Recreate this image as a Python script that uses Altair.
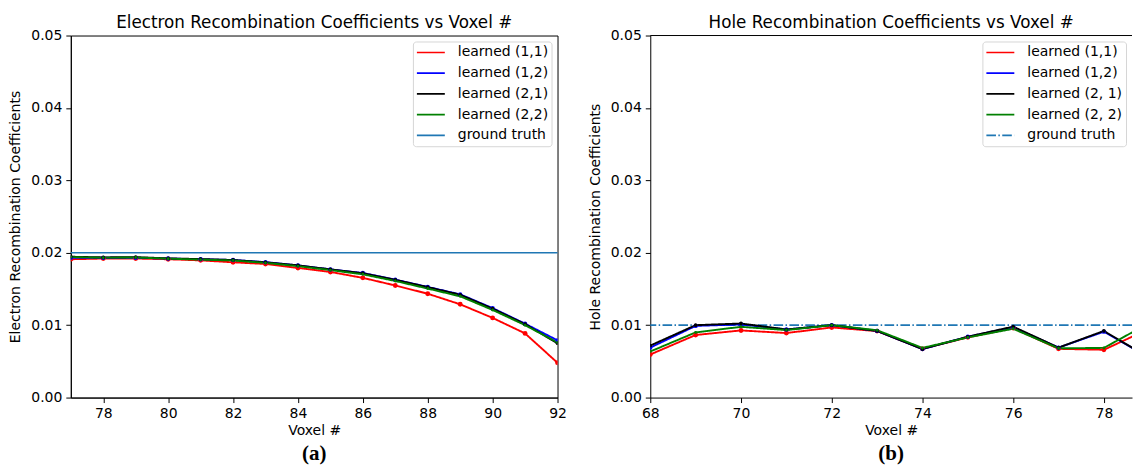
import altair as alt
import pandas as pd

# ---------------- data ----------------
voxel_e = list(range(77, 93))
e_11 = [0.0191, 0.0192, 0.0192, 0.0191, 0.01895, 0.01868, 0.01845, 0.0179, 0.01735,
        0.01653, 0.01548, 0.01434, 0.01288, 0.0110, 0.00886, 0.0048]
e_12 = [0.0193, 0.0193, 0.0193, 0.0192, 0.0191, 0.0190, 0.0187, 0.01826, 0.0177,
        0.0172, 0.01628, 0.01528, 0.01425, 0.01235, 0.0102, 0.0079]
e_21 = [0.01945, 0.01936, 0.0194, 0.01922, 0.01913, 0.0190, 0.01868, 0.01826, 0.0177,
        0.01717, 0.01626, 0.01525, 0.0142, 0.01228, 0.01014, 0.0075]
e_22 = [0.0194, 0.01932, 0.01935, 0.01918, 0.01905, 0.01893, 0.0186, 0.01815, 0.0176,
        0.01702, 0.0161, 0.01505, 0.01398, 0.0121, 0.0100, 0.0076]
gt_e = 0.02

voxel_h = list(range(68, 80))
h_11 = [0.00595, 0.00864, 0.00927, 0.00891, 0.00968, 0.00918, 0.00673, 0.00832,
        0.00959, 0.00673, 0.0066, 0.0095]
h_12 = [0.0069, 0.0099, 0.0101, 0.0094, 0.0100, 0.0092, 0.0067, 0.0084,
        0.0097, 0.0069, 0.0091, 0.0055]
h_21 = [0.00718, 0.0100, 0.01023, 0.0094, 0.0100, 0.0092, 0.0067, 0.0084,
        0.0098, 0.0069, 0.0092, 0.0055]
h_22 = [0.00636, 0.0090, 0.00977, 0.00932, 0.0100, 0.0093, 0.00686, 0.0083,
        0.0095, 0.0068, 0.00686, 0.0103]
gt_h = 0.01

names_e = ["learned (1,1)", "learned (1,2)", "learned (2,1)", "learned (2,2)", "ground truth"]
names_h = ["learned (1,1)", "learned (1,2)", "learned (2, 1)", "learned (2, 2)", "ground truth"]
colors = ["#ff0000", "#0000ff", "#000000", "#008000", "#1f77b4"]
marker_sizes = [24, 9, 24, 9]
y_ticks = [0.0, 0.01, 0.02, 0.03, 0.04, 0.05]
x_ticks_e = [78, 80, 82, 84, 86, 88, 90, 92]
x_ticks_h = [68, 70, 72, 74, 76, 78]

FONT = "DejaVu Sans"


def long_df(voxels, series, names):
    rows = []
    for vals, name in zip(series, names):
        for v, val in zip(voxels, vals):
            rows.append({"voxel": v, "value": val, "series": name})
    return pd.DataFrame(rows)


def panel(df, gt, names, dashes, xdom, xticks, width, height, title, ytitle, label, open_right):
    cscale = alt.Scale(domain=names, range=colors)
    dscale = alt.Scale(domain=names, range=dashes)
    sscale = alt.Scale(domain=names[:4], range=marker_sizes)
    legend = alt.Legend(
        title=None, orient="top-right", offset=6,
        symbolType="M-1,0L3,0", symbolSize=196, symbolStrokeWidth=1.7,
        labelFont=FONT, labelFontSize=14, labelColor="#000", labelOffset=26,
        rowPadding=5.8, padding=3, fillColor="white", strokeColor="#d6d6d6",
        cornerRadius=3,
    )
    xs = alt.Scale(domain=xdom, nice=False, zero=False)
    ys = alt.Scale(domain=[0, 0.05], nice=False)
    xaxis = alt.Axis(values=xticks, title="Voxel #", grid=False, format="d")
    yaxis = alt.Axis(values=y_ticks, format=".2f", title=ytitle, grid=False)
    color = alt.Color("series:N", scale=cscale, legend=legend)
    dash = alt.StrokeDash("series:N", scale=dscale, legend=legend)

    gt_df = pd.DataFrame({"value": [gt], "series": ["ground truth"]})
    rule = alt.Chart(gt_df).mark_rule(strokeWidth=1.6).encode(
        y=alt.Y("value:Q", scale=ys, axis=yaxis), color=color, strokeDash=dash
    )
    lines = alt.Chart(df).mark_line(strokeWidth=1.9, clip=True).encode(
        x=alt.X("voxel:Q", scale=xs, axis=xaxis),
        y=alt.Y("value:Q", scale=ys, axis=yaxis),
        color=color, strokeDash=dash,
    )
    points = alt.Chart(df).mark_point(filled=True, opacity=1, clip=True).encode(
        x=alt.X("voxel:Q", scale=xs, axis=xaxis),
        y=alt.Y("value:Q", scale=ys, axis=yaxis),
        color=color,
        size=alt.Size("series:N", scale=sscale, legend=None),
    )
    lab_df = pd.DataFrame({"label": [label]})
    text = alt.Chart(lab_df).mark_text(
        font="Liberation Serif", fontSize=21, fontWeight="bold",
        align="center", baseline="middle", color="black",
    ).encode(x=alt.value(width / 2), y=alt.value(height + 57), text="label:N")

    layers = [rule, lines, points, text]
    if open_right:
        top_spine = alt.Chart(lab_df).mark_rule(color="black", strokeWidth=1).encode(
            y=alt.value(0))
        layers.append(top_spine)
    ch = alt.layer(*layers).properties(
        width=width, height=height,
        title=alt.TitleParams(title, font=FONT, fontSize=16.8, fontWeight="normal",
                              color="black", offset=-3.4),
    )
    if open_right:
        ch = ch.properties(view=alt.ViewBackground(stroke="transparent"))
    return ch


df_e = long_df(voxel_e, [e_11, e_12, e_21, e_22], names_e[:4])
df_h = long_df(voxel_h, [h_11, h_12, h_21, h_22], names_h[:4])

solid = [1, 0]
left = panel(df_e, gt_e, names_e, [solid] * 5, [77, 92], x_ticks_e, 488, 363,
             "Electron Recombination Coefficients vs Voxel #",
             "Electron Recombination Coefficients", "(a)", False)
right = panel(df_h, gt_h, names_h, [solid] * 4 + [[9.6, 2.4, 1.5, 2.4]], [68, 78.62],
              x_ticks_h, 483, 363,
              "Hole Recombination Coefficients vs Voxel #",
              "Hole Recombination Coefficients", "(b)", True)

chart = alt.hconcat(left, right, spacing=20).resolve_scale(
    color="independent", strokeDash="independent", size="independent"
).properties(
    padding={"left": 8, "top": 14, "right": 0, "bottom": 0}
).configure_view(
    stroke="black", strokeWidth=1
).configure_axis(
    labelFont=FONT, labelFontSize=14, labelColor="#000",
    titleFont=FONT, titleFontSize=14, titleFontWeight="normal", titleColor="#000",
    domainColor="#000", tickColor="#000", tickSize=5, labelPadding=4,
    titlePadding=8,
).configure_axisX(
    titlePadding=3, labelFlush=False,
)

chart.save("out.html", embed_options={"renderer": "svg", "actions": False})
